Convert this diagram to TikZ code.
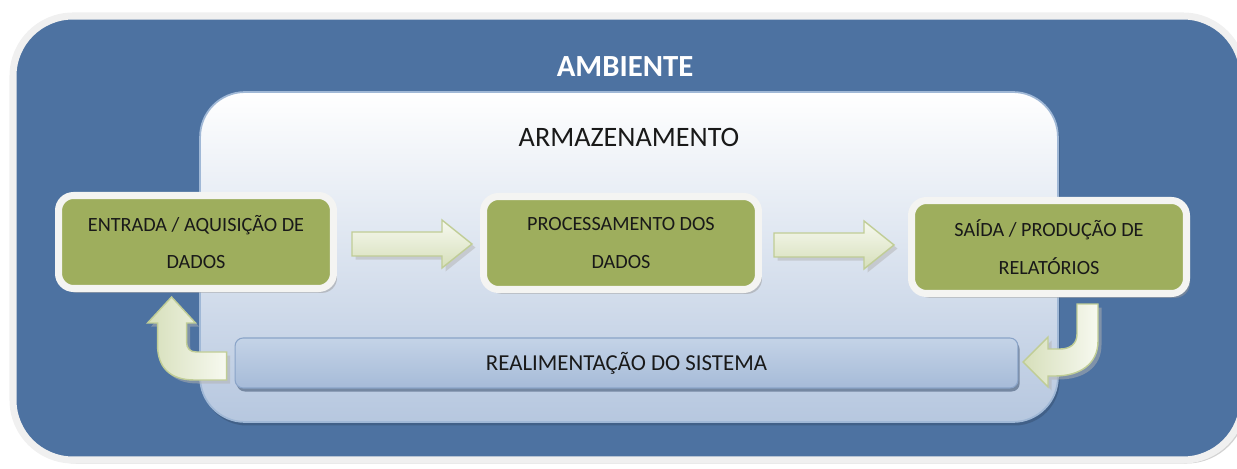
\documentclass[tikz,border=0pt]{standalone}
\usepackage{fontspec}
\setmainfont{Carlito}
\usetikzlibrary{positioning, calc, shadows}
\definecolor{envBlue}{RGB}{77,114,161}
\definecolor{frameGray}{RGB}{240,240,240}
\definecolor{stageGreen}{RGB}{158,174,93}
\definecolor{stageRim}{RGB}{244,244,242}
\definecolor{arrowLight}{RGB}{247,249,240}
\definecolor{arrowDark}{RGB}{214,223,186}
\definecolor{arrowEdge}{RGB}{192,205,150}
\definecolor{storeBlue}{RGB}{182,199,223}
\definecolor{storeMid}{RGB}{232,237,245}
\definecolor{storeEdge}{RGB}{160,184,214}
\definecolor{barTop}{RGB}{196,211,231}
\definecolor{barMid}{RGB}{228,234,243}
\definecolor{barBot}{RGB}{166,187,216}
\definecolor{barEdge}{RGB}{138,164,200}
\tikzstyle{ambFrame} = [rounded corners=1.2cm, fill=envBlue, draw=frameGray, line width=4pt, drop shadow={shadow xshift=2pt, shadow yshift=-2pt, fill=black!35}]
\tikzstyle{store} = [rectangle, rounded corners=0.9cm, draw=storeEdge, line width=1pt, top color=white, middle color=storeMid, bottom color=storeBlue, drop shadow={shadow xshift=1pt, shadow yshift=-2pt, fill=envBlue!70!black}]
\tikzstyle{stage} = [rectangle, rounded corners=0.3cm, draw=stageRim, line width=4pt, fill=stageGreen, minimum width=5.5cm, minimum height=1.86cm, align=center, font=\fontsize{11.5}{21.5}\selectfont, text=black!90, drop shadow={shadow xshift=2pt, shadow yshift=-2.5pt, fill=black!40}]
\tikzstyle{feedbar} = [rectangle, rounded corners=0.16cm, draw=barEdge, line width=0.6pt, top color=barTop, middle color=barMid, bottom color=barBot, minimum width=15.66cm, minimum height=1cm, font=\fontsize{13}{15}\selectfont, text=black!90, drop shadow={shadow xshift=1pt, shadow yshift=-2pt, fill=envBlue!60!black}]
\tikzstyle{flowArrow} = [draw=arrowEdge, line width=0.8pt, top color=arrowLight, bottom color=arrowDark, drop shadow={shadow xshift=2pt, shadow yshift=-2pt, fill=black!30}]
\tikzstyle{bentArrow} = [draw=arrowEdge, line width=0.8pt, left color=arrowDark, right color=arrowLight, drop shadow={shadow xshift=2pt, shadow yshift=-2pt, fill=black!30}]

\begin{document}
\begin{tikzpicture}[x=0.02cm, y=-0.02cm]
    \useasboundingbox (0,0) rectangle (1237,469);

    % Ambiente
    \draw[ambFrame] (13,16) rectangle (1243,460);
    \node[font=\fontsize{17.5}{20}\selectfont\bfseries, text=white] (ambiente) at (625,67) {AMBIENTE};

    % Armazenamento
    \node[store, minimum width=17.16cm, minimum height=6.6cm] (armaz) at (629,257) {};
    \node[font=\fontsize{16}{18}\selectfont, text=black!90] (armazlbl) at (629,137) {ARMAZENAMENTO};

    % Etapas
    \node[stage] (entrada) at (196,242) {ENTRADA / AQUISIÇÃO DE\\DADOS};
    \node[stage] (proc) at (621,243) {PROCESSAMENTO DOS\\DADOS};
    \node[stage] (saida) at (1049,247) {SAÍDA / PRODUÇÃO DE\\RELATÓRIOS};

    % Realimentacao
    \node[feedbar] (realim) at (626.5,363) {REALIMENTAÇÃO DO SISTEMA};

    % Setas entre etapas
    \draw[flowArrow] ($(entrada.east)+(15,-10)$) -- ++(90,0) -- ++(0,-12) -- ++(30,24) -- ++(-30,24) -- ++(0,-12) -- ++(-90,0) -- cycle;
    \draw[flowArrow] ($(proc.east)+(12,-10)$) -- ++(90,0) -- ++(0,-12) -- ++(30,24) -- ++(-30,24) -- ++(0,-12) -- ++(-90,0) -- cycle;

    % Setas curvas
    \draw[bentArrow] ($(realim.west)+(-8,-11)$) -- ++(-30,0)
        .. controls +(-7,0) and +(0,6) .. ++(-10,-10) -- ++(0,-19) -- ++(9,0)
        -- ++(-24,-26) -- ++(-24,26) -- ++(10,0) -- ++(0,22)
        .. controls +(0,22) and +(-25,0) .. ++(37,35) -- ++(32,0) -- cycle; % realim to entrada
    \draw[bentArrow] ($(saida.south)+(28,7)$) -- ++(21,0) -- ++(0,37)
        .. controls +(0,23) and +(25,0) .. ++(-43,35) -- ++(-7,0) -- ++(0,11)
        -- ++(-25,-25) -- ++(25,-25) -- ++(0,12) -- ++(12,0)
        .. controls +(10,0) and +(0,10) .. ++(17,-15) -- cycle; % saida to realim
\end{tikzpicture}
\end{document}
